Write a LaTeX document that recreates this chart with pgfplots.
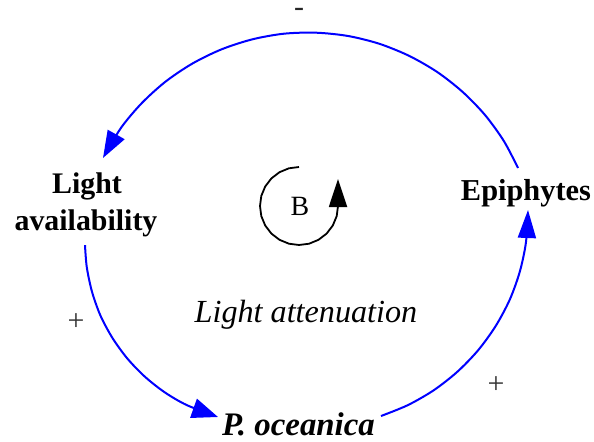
\documentclass[border=0pt]{standalone}
\usepackage{pgfplots}
\pgfplotsset{compat=1.18}
\usetikzlibrary{arrows.meta}
\usepackage{fontspec}
\setmainfont{Liberation Serif}
\begin{document}
\begin{tikzpicture}
\begin{axis}[
  width=594bp, height=442bp, scale only axis,
  xmin=0, xmax=594, ymin=0, ymax=442, y dir=reverse,
  hide axis, clip=false,
]
% top arc: Epiphytes -> Light availability
\addplot[blue, line width=2bp, smooth, -{Triangle[length=27bp,width=19bp]}] coordinates {
  (518,168) (503.9,141.1) (485.0,115.0) (462.6,91.9) (437.2,72.0) (409.2,55.9) (379.4,43.8)
  (348.1,36.0) (316.1,32.7) (283.9,33.7) (252.1,39.4) (221.4,49.4) (192.5,63.5) (165.7,81.5)
  (141.9,103.0) (121.1,127.7) (103,158)
};
% bottom-left arc: Light availability -> P. oceanica
\addplot[blue, line width=2bp, smooth, -{Triangle[length=26bp,width=20bp]}] coordinates {
  (85.0,245.2) (86.8,267.3) (92.1,292.1) (100.6,315.9) (112.6,338.2) (127.5,358.7)
  (145.1,376.9) (165.0,392.5) (187.0,405.2) (218.0,417.0)
};
% bottom-right arc: P. oceanica -> Epiphytes
\addplot[blue, line width=2bp, smooth, -{Triangle[length=28bp,width=18bp]}] coordinates {
  (381,416) (407.9,405.1) (433.8,390.2) (457.3,371.8) (478.0,350.4) (495.5,326.3)
  (509.6,300.0) (519.7,272.0) (525.9,242.7) (528,210)
};
% balancing loop symbol
\addplot[black, line width=1.8bp, -{Triangle[length=28bp,width=18bp]}] coordinates {
  (299,167) (288.9,168.3) (279.5,172.2) (271.4,178.4) (265.2,186.5) (261.3,195.9) (260,206)
  (261.3,216.1) (265.2,225.5) (271.4,233.6) (279.5,239.8) (288.9,243.7) (299,245)
  (309.1,243.7) (318.5,239.8) (326.6,233.6) (332.8,225.5) (336.7,216.1) (338,206) (338,179)
};
\node[inner sep=0, anchor=base, font=\fontsize{28}{31}\selectfont] at (axis cs:300,215) {B};
\node[inner sep=0, anchor=base, font=\bfseries\fontsize{30}{34}\selectfont] at (axis cs:87,193) {Light};
\node[inner sep=0, anchor=base, font=\bfseries\fontsize{30}{34}\selectfont] at (axis cs:86,230) {availability};
\node[inner sep=0, anchor=base, font=\bfseries\fontsize{30.5}{34}\selectfont] at (axis cs:526,200) {Epiphytes};
\node[inner sep=0, anchor=base, font=\bfseries\itshape\fontsize{33}{36}\selectfont] at (axis cs:298.5,435) {P. oceanica};
\node[inner sep=0, anchor=base, font=\itshape\fontsize{32.3}{36}\selectfont] at (axis cs:306,322) {Light attenuation};
\node[inner sep=0, anchor=center, text=black!80, font=\fontsize{30}{34}\selectfont] at (axis cs:76,322) {+};
\node[inner sep=0, anchor=center, text=black!80, font=\fontsize{30}{34}\selectfont] at (axis cs:496,385) {+};
\node[inner sep=0, anchor=base, text=black!85, font=\fontsize{30}{34}\selectfont] at (axis cs:299,17) {-};
\end{axis}
\pgfresetboundingbox
\path (current axis.south west) rectangle (current axis.north east);
\end{tikzpicture}
\end{document}
